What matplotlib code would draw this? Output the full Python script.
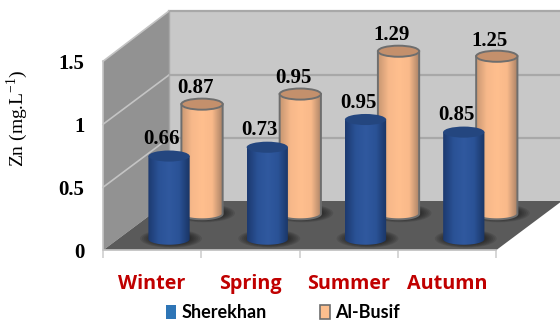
#!/usr/bin/env python3
import numpy as np
import matplotlib
matplotlib.use('Agg')
import matplotlib.pyplot as plt
from matplotlib.patches import Polygon, Ellipse, PathPatch, Patch
from matplotlib.path import Path
from matplotlib.colors import LinearSegmentedColormap

seasons = ['Winter', 'Spring', 'Summer', 'Autumn']
sherekhan = [0.66, 0.73, 0.95, 0.85]
al_busif = [0.87, 0.95, 1.29, 1.25]
y_ticks = [0, 0.5, 1, 1.5]
y_tick_labels = ['0', '0.5', '1', '1.5']

plt.rcParams['mathtext.fontset'] = 'custom'
plt.rcParams['mathtext.rm'] = 'Liberation Serif'

W, H = 560, 322
fig = plt.figure(figsize=(W / 100, H / 100), dpi=100)
# axes box is the front face of the 3d box: x 0-4 categories, y 0-1.5
ax = fig.add_axes([103 / W, 1 - 250.3 / H, 393 / W, 189 / H])
ax.set_xlim(0, 4)
ax.set_ylim(0, 1.5)
ax.patch.set_visible(False)
for s in ax.spines.values():
    s.set_visible(False)

# depth of the box, in data units
dx = 66 / 98.25
dy = 49.3 / 126.0
right_x = 4 + dx
wall_top = 1.5 + dy + 0.008

ax.add_patch(Polygon([(dx, dy), (dx, wall_top), (right_x, wall_top), (right_x, dy)],
                     fc='#c8c8c8', ec='none', zorder=1, clip_on=False))
ax.add_patch(Polygon([(0, 0), (0, 1.5), (dx, wall_top), (dx, dy)],
                     fc='#929292', ec='none', zorder=1, clip_on=False))
ax.add_patch(Polygon([(0, 0), (dx, dy), (right_x, dy), (4, 0)],
                     fc='#5a5a5a', ec='none', zorder=2, clip_on=False))

# gridlines across both walls
for t in y_ticks[1:]:
    top = t + dy + (0.008 if t == 1.5 else 0)
    ax.plot([dx, right_x], [top, top], color='#a8a8a8', lw=1.6, zorder=1.5, clip_on=False)
    ax.plot([0, dx], [t, top], color='#c4c4c4', lw=1.2, zorder=1.5, clip_on=False)
ax.plot([dx, dx], [dy, wall_top], color='#a8a8a8', lw=1, zorder=1.5, clip_on=False)
ax.plot([0, 0], [0, 1.5], color='#c4c4c4', lw=1.2, zorder=1.5, clip_on=False)
ax.plot([0, 4], [0, 0], color='#c8c8c8', lw=1.2, zorder=2.5, clip_on=False)

blue_cmap = LinearSegmentedColormap.from_list('blue', ['#1d3a70', '#2a5296', '#30599f', '#2a5296', '#1a3565'])
orange_cmap = LinearSegmentedColormap.from_list('orange', ['#c99873', '#f7b88a', '#ffbf8e', '#f9b98a', '#a88166'])
half_w = 0.21
half_h = 0.044
grad = np.linspace(0, 1, 64).reshape(1, -1)


def cylinder(x, base, value, cmap, top_colour, edge, z):
    top = base + value
    # soft shadow on the floor
    for k in np.linspace(1, 0.35, 12):
        ax.add_patch(Ellipse((x + 0.02, base + 0.005), 2 * half_w * 1.5 * k, 2 * half_h * 1.65 * k,
                             fc='#151515', ec='none', alpha=0.13, zorder=z, clip_on=False))
    t = np.linspace(np.pi, 2 * np.pi, 40)
    xs = x + half_w * np.cos(t)
    ys = base + half_h * np.sin(t)
    verts = list(zip(xs, ys)) + [(x + half_w, top), (x - half_w, top), (xs[0], ys[0])]
    body = PathPatch(Path(verts, closed=False), fc='none', ec=edge, lw=1.4 if edge != 'none' else 0,
                     zorder=z + 0.2, clip_on=False)
    ax.add_patch(body)
    im = ax.imshow(grad, cmap=cmap, extent=(x - half_w, x + half_w, base - half_h, top),
                   aspect='auto', zorder=z + 0.1)
    im.set_clip_box(fig.bbox)
    im.set_clip_path(body)
    ax.add_patch(Ellipse((x, top), 2 * half_w, 2 * half_h, fc=top_colour,
                         ec=edge, lw=1.4 if edge != 'none' else 0, zorder=z + 0.3, clip_on=False))


blue_x = np.arange(4) + 0.672
orange_x = np.arange(4) + 1.008
blue_base = 0.088
orange_base = 0.29

for i in range(4):
    cylinder(orange_x[i], orange_base, al_busif[i], orange_cmap, '#c4906c', '#6e6e6e', 3)
    ax.text(orange_x[i] - 0.07, orange_base + al_busif[i] + 0.125, '%.2f' % al_busif[i],
            ha='center', va='center', family='Liberation Serif', weight='bold', fontsize=15,
            zorder=6, clip_on=False)
for i in range(4):
    cylinder(blue_x[i], blue_base, sherekhan[i], blue_cmap, '#24467f', 'none', 4)
    ax.text(blue_x[i] - 0.075, blue_base + sherekhan[i] + 0.135, '%.2f' % sherekhan[i],
            ha='center', va='center', family='Liberation Serif', weight='bold', fontsize=15,
            zorder=6, clip_on=False)

ax.set_xlim(0, 4)
ax.set_ylim(0, 1.5)

ax.set_yticks(y_ticks)
ax.set_yticklabels(y_tick_labels, family='Liberation Serif', weight='bold', fontsize=15)
ax.tick_params(axis='y', length=0, pad=13.5)
ax.set_ylabel(r'Zn (mg.L$^{-1}$)', family='Liberation Serif', fontsize=14)
ax.yaxis.set_label_coords((30 - 103) / 393, (250.3 - 118) / 189)

# season names sit between the tick marks
ax.set_xticks(range(5))
ax.set_xticks(np.arange(4) + 0.5, minor=True)
ax.set_xticklabels([])
ax.set_xticklabels(seasons, minor=True, family='Open Sans', weight='bold', fontsize=14.2, color='#c00000')
ax.tick_params(axis='x', which='major', length=5.8, width=1.2, color='#d0d0d0')
ax.tick_params(axis='x', which='minor', length=0, pad=17)

handles = [Patch(fc='#2e75b6', ec='none', label='Sherekhan'),
           Patch(fc='#fdbf8e', ec='#6e6e6e', lw=1.2, label='Al-Busif')]
fig.legend(handles=handles, loc='center', bbox_to_anchor=(283 / W, 1 - 313 / H), ncol=2, frameon=False,
           prop={'family': 'Lato', 'weight': 'bold', 'size': 13},
           handlelength=0.55, handleheight=0.78, handletextpad=0.28, columnspacing=2.95)

fig.savefig('out.png', dpi=100)
